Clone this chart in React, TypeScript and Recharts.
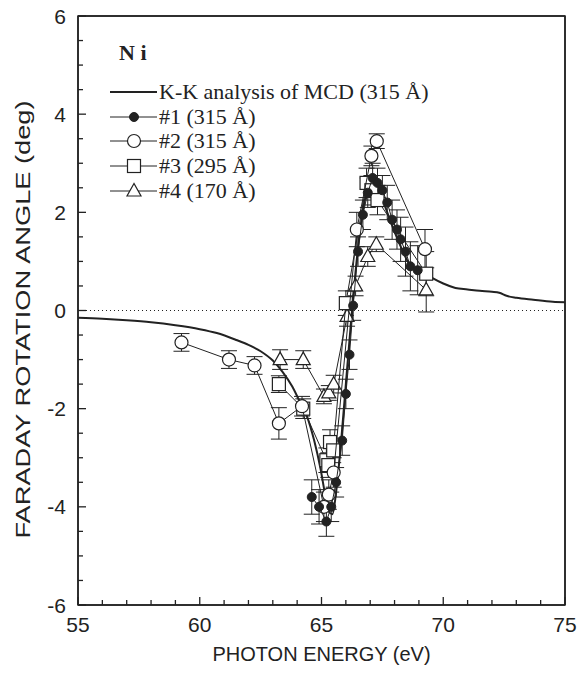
import React from "react";
import {
  ComposedChart,
  Line,
  Scatter,
  XAxis,
  YAxis,
  ErrorBar,
  ReferenceLine,
  ReferenceArea,
} from "recharts";

const INK = "#222";
const SANS = "'Liberation Sans', Arial, Helvetica, sans-serif";
const SERIF = "'Liberation Serif', 'Times New Roman', serif";

// K-K analysis of MCD (315 Å), solid curve
const kkEnergy = [55, 56, 57, 58, 59, 60, 60.7, 61.5, 62, 62.5, 63, 63.4, 63.8, 64.1, 64.4, 64.7, 64.95, 65.15, 65.3, 65.45, 65.6, 65.8, 66.0, 66.2, 66.4, 66.6, 66.8, 67.0, 67.2, 67.4, 67.7, 68.0, 68.3, 68.6, 68.9, 69.3, 69.6, 70.0, 70.5, 71.0, 71.5, 72.0, 72.3, 72.6, 73.0, 73.7, 74.5, 75];
const kkAngle = [-0.15, -0.17, -0.2, -0.24, -0.3, -0.38, -0.46, -0.6, -0.7, -0.83, -1.02, -1.25, -1.55, -1.85, -2.15, -2.65, -3.2, -3.75, -4.1, -4.15, -3.7, -2.7, -1.5, -0.3, 0.8, 1.7, 2.3, 2.6, 2.6, 2.4, 2.0, 1.6, 1.25, 0.95, 0.82, 0.74, 0.65, 0.55, 0.46, 0.43, 0.4, 0.38, 0.36, 0.3, 0.26, 0.22, 0.18, 0.17];

// #1 (315 Å), filled circles
const s1Energy = [64.6, 64.9, 65.2, 65.4, 65.6, 65.85, 66.0, 66.15, 66.3, 66.5, 66.7, 66.9, 67.1, 67.3, 67.5, 67.7, 67.9, 68.1, 68.25, 68.45, 68.65, 68.95];
const s1Angle = [-3.8, -4.0, -4.3, -4.0, -3.5, -2.65, -1.7, -0.9, 0.1, 1.2, 1.95, 2.4, 2.7, 2.6, 2.45, 2.2, 1.85, 1.65, 1.45, 1.2, 0.9, 0.82];
const s1Err = [0.35, 0.35, 0.3, 0.3, 0.3, 0.3, 0.3, 0.3, 0.3, 0.3, 0.3, 0.3, 0.3, 0.3, 0.3, 0.35, 0.4, 0.4, 0.45, 0.5, 0.5, 0.5];

// #2 (315 Å), open circles
const s2Energy = [59.25, 61.2, 62.25, 63.25, 64.2, 65.1, 65.3, 65.5, 66.45, 67.05, 67.27, 69.25];
const s2Angle = [-0.65, -1.0, -1.12, -2.3, -1.95, -4.0, -3.75, -3.3, 1.65, 3.15, 3.45, 1.25];
const s2Err = [0.18, 0.18, 0.18, 0.32, 0.2, 0.3, 0.3, 0.3, 0.35, 0.2, 0.15, 0.4];

// #3 (295 Å), open squares
const s3Energy = [63.25, 64.25, 65.2, 65.28, 65.35, 65.48, 66.0, 66.85, 67.05, 67.3, 69.3];
const s3Angle = [-1.5, -2.0, -3.05, -3.15, -2.68, -2.85, 0.15, 2.6, 2.45, 2.25, 0.75];
const s3Err = [0.17, 0.2, 0.25, 0.25, 0.25, 0.25, 0.25, 0.3, 0.3, 0.3, 0.45];

// #4 (170 Å), open triangles
const s4Energy = [63.3, 64.25, 65.1, 65.3, 65.5, 66.05, 66.4, 66.9, 67.25, 69.3];
const s4Angle = [-1.0, -1.0, -1.75, -1.68, -1.5, -0.12, 0.5, 1.1, 1.35, 0.42];
const s4Err = [0.2, 0.18, 0.15, 0.15, 0.18, 0.2, 0.2, 0.2, 0.15, 0.45];

const xTicks = Array.from({ length: 21 }, (_, i) => 55 + i);
const yTicks = Array.from({ length: 25 }, (_, i) => -6 + i * 0.5);

const legendTitle = "N i";
const legendLabels = [
  "K-K analysis of MCD (315 Å)",
  "#1 (315 Å)",
  "#2 (315 Å)",
  "#3 (295 Å)",
  "#4 (170 Å)",
];

const toPoints = (xs: number[], ys: number[], errs?: number[]) =>
  xs.map((x, i) => ({ x, y: ys[i], err: errs ? errs[i] : 0 }));

const kkData = toPoints(kkEnergy, kkAngle);
const s1Data = toPoints(s1Energy, s1Angle, s1Err);
const s2Data = toPoints(s2Energy, s2Angle, s2Err);
const s3Data = toPoints(s3Energy, s3Angle, s3Err);
const s4Data = toPoints(s4Energy, s4Angle, s4Err);

// marker shapes
const FilledDot = ({ cx, cy }: any) => <circle cx={cx} cy={cy} r={4.5} fill={INK} stroke={INK} />;
const OpenDot = ({ cx, cy }: any) => <circle cx={cx} cy={cy} r={6.5} fill="#fff" stroke={INK} strokeWidth={1.2} />;
const OpenSquare = ({ cx, cy }: any) => (
  <rect x={cx - 6.5} y={cy - 6.5} width={13} height={13} fill="#fff" stroke={INK} strokeWidth={1.2} />
);
const OpenTriangle = ({ cx, cy }: any) => (
  <polygon
    points={`${cx},${cy - 7.5} ${cx - 7},${cy + 5} ${cx + 7},${cy + 5}`}
    fill="#fff"
    stroke={INK}
    strokeWidth={1.2}
  />
);

// ticks point inwards, labels only on majors
const tickLen = (major: boolean) => (major ? 8 : 5);

const LeftTick = ({ x, y, payload }: any) => {
  const v = payload.value;
  const major = v % 2 === 0;
  return (
    <g>
      <line x1={x} x2={x + tickLen(major)} y1={y} y2={y} stroke={INK} strokeWidth={1.3} />
      {major && (
        <text x={x - 12} y={y} dy="0.36em" textAnchor="end" fontFamily={SANS} fontSize={21} fill={INK}>
          {v}
        </text>
      )}
    </g>
  );
};
const RightTick = ({ x, y, payload }: any) => (
  <line x1={x} x2={x - tickLen(payload.value % 2 === 0)} y1={y} y2={y} stroke={INK} strokeWidth={1.3} />
);
const BottomTick = ({ x, y, payload }: any) => {
  const v = payload.value;
  const major = v % 5 === 0;
  return (
    <g>
      <line x1={x} x2={x} y1={y} y2={y - tickLen(major)} stroke={INK} strokeWidth={1.3} />
      {major && (
        <text x={x} y={y + 27} textAnchor="middle" fontFamily={SANS} fontSize={21} fill={INK}>
          {v}
        </text>
      )}
    </g>
  );
};
const TopTick = ({ x, y, payload }: any) => (
  <line x1={x} x2={x} y1={y} y2={y + tickLen(payload.value % 5 === 0)} stroke={INK} strokeWidth={1.3} />
);

const YTitle = ({ viewBox }: any) => {
  const cx = viewBox.x + 22;
  const cy = viewBox.y + viewBox.height / 2 + 9;
  return (
    <text
      x={cx}
      y={cy}
      transform={`rotate(-90 ${cx} ${cy})`}
      textAnchor="middle"
      dominantBaseline="central"
      fontFamily={SANS}
      fontSize={21}
      fill={INK}
      textLength={438}
      lengthAdjust="spacingAndGlyphs"
    >
      FARADAY ROTATION ANGLE (deg)
    </text>
  );
};

const XTitle = ({ viewBox }: any) => (
  <text
    x={viewBox.x + viewBox.width / 2}
    y={viewBox.y + 56}
    textAnchor="middle"
    fontFamily={SANS}
    fontSize={20}
    fill={INK}
  >
    PHOTON ENERGY (eV)
  </text>
);

const legendMarkers = [null, FilledDot, OpenDot, OpenSquare, OpenTriangle];

function LegendBox() {
  const rowY = [92, 117, 141, 166, 191];
  return (
    <svg width={470} height={210} style={{ position: "absolute", left: 0, top: 0, pointerEvents: "none" }}>
      <text x={119} y={60} fontFamily={SERIF} fontSize={22} fontWeight="bold" fill={INK}>
        {legendTitle}
      </text>
      {legendLabels.map((label, i) => {
        const Marker = legendMarkers[i];
        const y = rowY[i];
        return (
          <g key={label}>
            <line x1={110} x2={157} y1={y} y2={y} stroke={INK} strokeWidth={i === 0 ? 2 : 1} />
            {Marker && <Marker cx={134} cy={y} />}
            <text x={159} y={y} dy="0.34em" fontFamily={SERIF} fontSize={22} fill={INK}>
              {label}
            </text>
          </g>
        );
      })}
    </svg>
  );
}

const seriesLine = { stroke: INK, strokeWidth: 1 };
const frameAxis = {
  type: "number" as const,
  interval: 0,
  tickSize: 0,
  tickMargin: 0,
  tickLine: false,
  axisLine: { stroke: INK, strokeWidth: 1.5 },
};

export default function App() {
  return (
    <div style={{ position: "relative", width: 580, height: 673, background: "#fff" }}>
      <style>{"html,body{margin:0;padding:0;overflow:hidden;background:#fff}"}</style>
      <ComposedChart width={580} height={673} margin={{ top: 15, right: 14, left: 0, bottom: 13 }}>
        <XAxis {...frameAxis} dataKey="x" domain={[55, 75]} ticks={xTicks} height={55} tick={<BottomTick />} label={<XTitle />} />
        <XAxis {...frameAxis} xAxisId="top" orientation="top" dataKey="x" domain={[55, 75]} ticks={xTicks} height={1} tick={<TopTick />} />
        <YAxis {...frameAxis} dataKey="y" domain={[-6, 6]} ticks={yTicks} width={78} tick={<LeftTick />} label={<YTitle />} />
        <YAxis {...frameAxis} yAxisId="right" orientation="right" dataKey="y" domain={[-6, 6]} ticks={yTicks} width={1} tick={<RightTick />} />

        <ReferenceArea x1={55} x2={75} y1={-6} y2={6} fill="none" stroke={INK} strokeWidth={1.5} ifOverflow="visible" />
        <ReferenceLine y={0} stroke={INK} strokeDasharray="1 3" />

        {/* empty series so the top and right frame axes are in use */}
        <Scatter data={[]} xAxisId="top" yAxisId="right" isAnimationActive={false} />

        <Line
          data={kkData}
          dataKey="y"
          type="monotone"
          stroke={INK}
          strokeWidth={2}
          dot={false}
          isAnimationActive={false}
        />
        <Scatter data={s4Data} line={seriesLine} shape={<OpenTriangle />} isAnimationActive={false}>
          <ErrorBar dataKey="err" direction="y" width={8} stroke={INK} strokeWidth={1} />
        </Scatter>
        <Scatter data={s3Data} line={seriesLine} shape={<OpenSquare />} isAnimationActive={false}>
          <ErrorBar dataKey="err" direction="y" width={8} stroke={INK} strokeWidth={1} />
        </Scatter>
        <Scatter data={s2Data} line={seriesLine} shape={<OpenDot />} isAnimationActive={false}>
          <ErrorBar dataKey="err" direction="y" width={8} stroke={INK} strokeWidth={1} />
        </Scatter>
        <Scatter data={s1Data} line={seriesLine} shape={<FilledDot />} isAnimationActive={false}>
          <ErrorBar dataKey="err" direction="y" width={8} stroke={INK} strokeWidth={1} />
        </Scatter>
      </ComposedChart>
      <LegendBox />
    </div>
  );
}
